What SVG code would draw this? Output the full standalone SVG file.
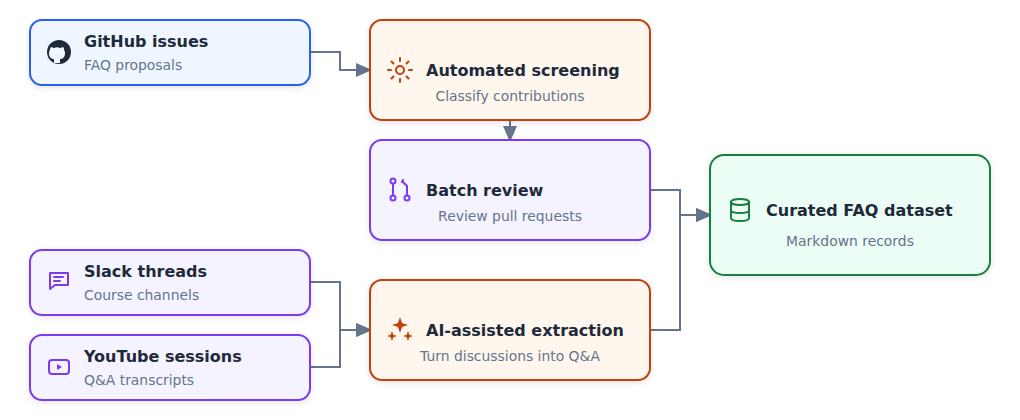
<svg xmlns="http://www.w3.org/2000/svg" width="1020" height="420" viewBox="0 0 1020 420">
<style>
text{font-family:"DejaVu Sans",sans-serif}
.t{font-size:16px;font-weight:bold;fill:#1e293b}
.s{font-size:13.9px;fill:#64748b}
.c{text-anchor:middle}
.blue rect{fill:#eff6ff;stroke:#2563eb;stroke-width:2}
.or rect{fill:#fff7ed;stroke:#c2410c;stroke-width:2}
.pu rect{fill:#f5f3ff;stroke:#7c3aed;stroke-width:2}
.gr rect{fill:#ecfdf5;stroke:#15803d;stroke-width:2}
.node rect{filter:url(#sh)}
.ic{fill:none;stroke-width:2;stroke-linecap:round;stroke-linejoin:round}
#edges path{fill:none;stroke:#64748b;stroke-width:2;marker-end:url(#ar)}
</style>
<defs>
<filter id="sh" x="-10%" y="-10%" width="120%" height="130%"><feDropShadow dx="0" dy="2" stdDeviation="3" flood-color="#0f172a" flood-opacity="0.1"/></filter>
<marker id="ar" markerWidth="16" markerHeight="14" refX="15" refY="7" orient="auto" markerUnits="userSpaceOnUse"><path d="M0,0 L16,7 L0,14 z" fill="#64748b"/></marker>
</defs>
<g id="edges">
<path d="M310 52 H340 V70 H371"/>
<path d="M510 120 V141"/>
<path d="M310 282 H340 V330 H371"/>
<path d="M310 367 H340 V330 H371"/>
<path d="M650 190 H680 V215 H711"/>
<path d="M650 330 H680 V215 H711"/>
</g>
<g id="github" class="node blue">
<rect x="30" y="20" width="280" height="65" rx="12"/>
<circle cx="59" cy="52" r="12" fill="#1e293b"/>
<path d="M54 63 v-4 c-3 0-5-2-5-6 0-2 1-3 1-3 0-1 0-2 1-3 1 0 2 1 3 1 2-1 4-1 6 0 1 0 2-1 3-1 1 1 1 2 1 3 0 0 1 1 1 3 0 4-2 6-5 6 v4" fill="#eff6ff"/>
<text class="t" x="84" y="47">GitHub issues</text>
<text class="s" x="84" y="70">FAQ proposals</text>
</g>
<g id="screening" class="node or">
<rect x="370" y="20" width="280" height="100" rx="12"/>
<g class="ic" stroke="#c2410c"><circle cx="400" cy="70" r="4"/><path d="M400 58v3M400 79v3M388 70h3M409 70h3M391.5 61.5l2 2M406.5 76.5l2 2M391.5 78.5l2-2M406.5 63.5l2-2"/></g>
<text class="t" x="426" y="76">Automated screening</text>
<text class="s c" x="510" y="101">Classify contributions</text>
</g>
<g id="batch" class="node pu">
<rect x="370" y="140" width="280" height="100" rx="12"/>
<g class="ic" stroke="#7c3aed"><circle cx="393" cy="181" r="2.5"/><circle cx="393" cy="198" r="2.5"/><circle cx="407" cy="198" r="2.5"/><path d="M393 184v11M407 195v-9l-4-4M403 180l-1 2"/></g>
<text class="t" x="426" y="196">Batch review</text>
<text class="s c" x="510" y="221">Review pull requests</text>
</g>
<g id="curated" class="node gr">
<rect x="710" y="155" width="280" height="120" rx="14"/>
<g class="ic" stroke="#15803d"><ellipse cx="740" cy="202" rx="9" ry="3"/><path d="M731 202v16c0 2 4 3 9 3s9-1 9-3v-16M731 210c0 2 4 3 9 3s9-1 9-3"/></g>
<text class="t" x="766" y="216">Curated FAQ dataset</text>
<text class="s c" x="850" y="246">Markdown records</text>
</g>
<g id="slack" class="node pu">
<rect x="30" y="250" width="280" height="65" rx="12"/>
<g class="ic" stroke="#7c3aed"><path d="M50 273h18v12h-13l-5 4z"/><path d="M54 277h9M54 281h6"/></g>
<text class="t" x="84" y="277">Slack threads</text>
<text class="s" x="84" y="300">Course channels</text>
</g>
<g id="youtube" class="node pu">
<rect x="30" y="335" width="280" height="65" rx="12"/>
<g class="ic" stroke="#7c3aed"><rect x="49" y="360" width="20" height="14" rx="3" style="fill:none;stroke:#7c3aed;filter:none"/></g>
<path d="M57 364v6l5-3z" fill="#7c3aed"/>
<text class="t" x="84" y="362">YouTube sessions</text>
<text class="s" x="84" y="385">Q&amp;A transcripts</text>
</g>
<g id="extraction" class="node or">
<rect x="370" y="280" width="280" height="100" rx="12"/>
<g fill="#c2410c"><path d="M400 317 l2 6 6 2-6 2-2 6-2-6-6-2 6-2z"/><path d="M392 331l1.3 3.7 3.7 1.3-3.7 1.3-1.3 3.7-1.3-3.7-3.7-1.3 3.7-1.3z"/><path d="M408 331l1.3 3.7 3.7 1.3-3.7 1.3-1.3 3.7-1.3-3.7-3.7-1.3 3.7-1.3z"/></g>
<text class="t" x="426" y="336">AI-assisted extraction</text>
<text class="s c" x="510" y="361">Turn discussions into Q&amp;A</text>
</g>
</svg>
